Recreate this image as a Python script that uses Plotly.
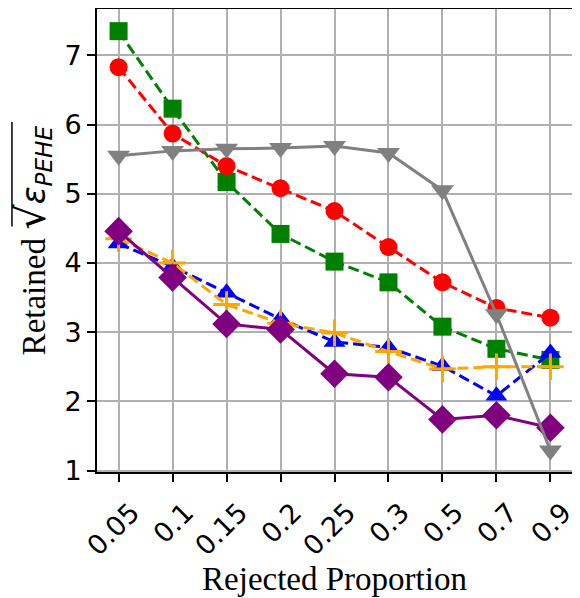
import plotly.graph_objects as go

# rejected proportions (categorical x axis)
proportions = ["0.05", "0.1", "0.15", "0.2", "0.25", "0.3", "0.5", "0.7", "0.9"]

green_sq = [7.35, 6.23, 5.17, 4.42, 4.02, 3.72, 3.08, 2.76, 2.60]
red_circ = [6.83, 5.87, 5.40, 5.08, 4.75, 4.23, 3.72, 3.35, 3.21]
blue_tri = [4.28, 3.95, 3.57, 3.19, 2.86, 2.78, 2.51, 2.08, 2.70]
orange_plus = [4.35, 4.00, 3.40, 3.13, 2.99, 2.72, 2.47, 2.50, 2.50]
purple_dia = [4.46, 3.79, 3.12, 3.04, 2.40, 2.35, 1.74, 1.80, 1.62]
gray_tri = [5.55, 5.62, 5.65, 5.66, 5.69, 5.59, 5.05, 3.26, 1.29]

y_ticks = [1, 2, 3, 4, 5, 6, 7]

DASH = "11px,5px"

series = [
    (green_sq, "green", "square", 18, DASH),
    (red_circ, "red", "circle", 18, DASH),
    (blue_tri, "blue", "triangle-up", 19, DASH),
    (orange_plus, "orange", "cross-thin", 19, DASH),
    (purple_dia, "purple", "diamond", 22, "solid"),
    (gray_tri, "gray", "triangle-down", 20, "solid"),
]

fig = go.Figure()
for vals, color, symbol, size, dash in series:
    marker = dict(symbol=symbol, size=size, color=color)
    if symbol == "cross-thin":
        marker["line"] = dict(color=color, width=3)
    fig.add_trace(go.Scatter(
        x=proportions, y=vals, mode="lines+markers",
        line=dict(color=color, width=3, dash=dash),
        marker=marker, showlegend=False, cliponaxis=False,
    ))

axis_common = dict(
    showline=True, linecolor="black", linewidth=2, mirror=True,
    showgrid=True, gridcolor="#b0b0b0", gridwidth=1.5,
    ticks="outside", ticklen=8, tickwidth=2, tickcolor="black",
    tickfont=dict(family="DejaVu Sans", size=27, color="black"),
    zeroline=False, automargin=False,
)

fig.update_xaxes(
    **axis_common, type="category", range=[-0.4, 8.4],
    tickangle=-45, ticklabelshift=13, ticklabelstandoff=4,
    title=dict(text="Rejected Proportion", standoff=4,
               font=dict(family="Liberation Serif", size=33, color="black")),
)
fig.update_yaxes(**axis_common, range=[0.98, 7.67], tickvals=y_ticks)

# y title as a rotated annotation so it can sit closer to the edge
fig.add_annotation(
    text="Retained <span style='font-family:DejaVu Sans;font-size:40px'>√</span>"
         "<span style='font-family:DejaVu Sans'><i>ε<sub>PEHE</sub></i></span>",
    xref="paper", yref="paper", x=-0.135, y=0.5,
    xanchor="center", yanchor="middle", textangle=-90, showarrow=False,
    font=dict(family="Liberation Serif", size=33, color="black"),
)

# overbar of the square root
fig.add_shape(type="line", xref="paper", yref="paper",
              x0=-0.179, x1=-0.179, y0=0.53, y1=0.756,
              line=dict(color="black", width=1.5))

# page body adds an 8px offset, so the figure is 8px smaller than the window
fig.update_layout(
    width=572, height=591,
    margin=dict(l=89, r=8, t=1, b=127),
    plot_bgcolor="white", paper_bgcolor="white",
)

fig.write_html("out.html")
